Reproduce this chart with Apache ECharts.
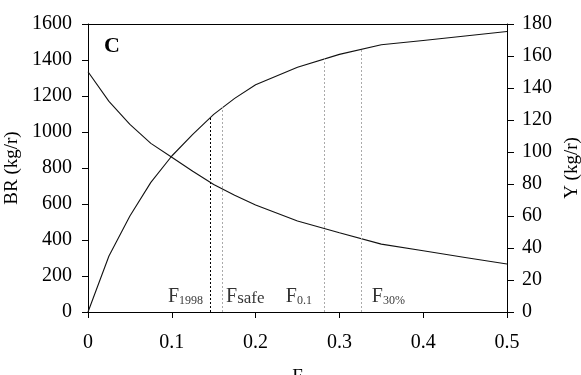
<!DOCTYPE html>
<html>
<head>
<meta charset="utf-8">
<script src="https://cdn.jsdelivr.net/npm/echarts@6/dist/echarts.min.js"></script>
<style>
  html, body { margin: 0; padding: 0; background: #fff; }
  #chart { width: 581px; height: 375px; }
</style>
</head>
<body>
<div id="chart"></div>
<script>
// fishing mortality values
const fValues = [0, 0.025, 0.05, 0.075, 0.1, 0.125, 0.15, 0.175, 0.2, 0.25, 0.3, 0.35, 0.4, 0.45, 0.5]
// biomass per recruit (left axis)
const brValues = [1335, 1170, 1042, 937, 860, 782, 708, 648, 594, 506, 440, 377, 340, 303, 267]
// yield per recruit (right axis)
const yValues = [0, 35, 60, 81, 97.5, 111, 123.5, 133.5, 142, 153, 161, 167, 169.7, 172.5, 175.3]

// tick labels
const fTicks = [0, 0.1, 0.2, 0.3, 0.4, 0.5]
const brTicks = [0, 200, 400, 600, 800, 1000, 1200, 1400, 1600]
const yTicks = [0, 20, 40, 60, 80, 100, 120, 140, 160, 180]

// reference points
const refNames = ["1998", "safe", "0.1", "30%"]
const refF = [0.1456, 0.16, 0.2815, 0.3255]
const refTop = [122.5, 128, 158.5, 164.5]

const font = "Liberation Serif"

const chart = echarts.init(document.getElementById("chart"), null, { renderer: "canvas" })

const refColors = ["#000", "#aaa", "#aaa", "#aaa"]
const labelSide = ["left", "right", "left", "right"]
const labelDist = [7, 4, 12, 11]

chart.setOption({
  animation: false,
  backgroundColor: "#fff",
  textStyle: { fontFamily: font, color: "#000" },
  title: {
    text: "C",
    left: 99,
    top: 30,
    textStyle: { fontFamily: font, fontSize: 22, fontWeight: "bold", color: "#000" },
  },
  grid: { left: 88, right: 74, top: 24, bottom: 63, containLabel: false, outerBoundsMode: "none" },
  xAxis: [
    {
      type: "value",
      min: 0,
      max: 0.5,
      interval: 0.1,
      name: "F",
      nameLocation: "middle",
      nameGap: 56,
      nameTextStyle: { fontFamily: font, fontSize: 19, color: "#000" },
      axisLine: { onZero: false, lineStyle: { color: "#000", width: 1 } },
      axisTick: { length: 6, customValues: fTicks, lineStyle: { color: "#000" } },
      minorTick: { show: false },
      axisLabel: {
        margin: 21,
        customValues: fTicks,
        fontFamily: font,
        fontSize: 20,
        color: "#000",
        formatter: (v) => (v === 0 ? "0" : String(Math.round(v * 10) / 10)),
      },
      splitLine: { show: false },
    },
    {
      type: "value",
      position: "top",
      min: 0,
      max: 0.5,
      axisLine: { onZero: false, lineStyle: { color: "#000", width: 1 } },
      axisTick: { show: false },
      axisLabel: { show: false },
      splitLine: { show: false },
    },
  ],
  yAxis: [
    {
      type: "value",
      position: "left",
      min: 0,
      max: 1600,
      interval: 200,
      name: "BR (kg/r)",
      nameLocation: "middle",
      nameGap: 60,
      nameTextStyle: { fontFamily: font, fontSize: 19, color: "#000" },
      axisLine: { show: true, onZero: false, lineStyle: { color: "#000", width: 1 } },
      axisTick: { show: true, length: 6, customValues: brTicks, lineStyle: { color: "#000" } },
      minorTick: { show: false },
      axisLabel: {
        margin: 16,
        customValues: brTicks,
        fontFamily: font,
        fontSize: 20,
        color: "#000",
        formatter: (v) => String(v),
      },
      splitLine: { show: false },
    },
    {
      type: "value",
      min: 0,
      max: 180,
      interval: 20,
      position: "right",
      name: "Y (kg/r)",
      nameLocation: "middle",
      nameGap: 52,
      nameRotate: 90,
      nameTextStyle: { fontFamily: font, fontSize: 19, color: "#000" },
      axisLine: { show: true, onZero: false, lineStyle: { color: "#000", width: 1 } },
      axisTick: { show: true, length: 7, customValues: yTicks, lineStyle: { color: "#000" } },
      minorTick: { show: false },
      axisLabel: {
        margin: 15,
        customValues: yTicks,
        fontFamily: font,
        fontSize: 20,
        color: "#000",
        formatter: (v) => String(v),
      },
      splitLine: { show: false },
    },
  ],
  series: [
    {
      name: "BR",
      type: "line",
      yAxisIndex: 0,
      symbol: "none",
      lineStyle: { color: "#111", width: 1.1 },
      data: fValues.map((f, i) => [f, brValues[i]]),
    },
    {
      name: "Y",
      type: "line",
      yAxisIndex: 1,
      symbol: "none",
      lineStyle: { color: "#111", width: 1.1 },
      data: fValues.map((f, i) => [f, yValues[i]]),
      markLine: {
        silent: true,
        symbol: "none",
        label: { show: false },
        data: refF.map((f, i) => [
          { coord: [f, 0], lineStyle: { color: refColors[i], type: [2, 2], width: 1 } },
          { coord: [f, refTop[i]] },
        ]),
      },
    },
    {
      name: "labels",
      type: "scatter",
      yAxisIndex: 1,
      symbolSize: 0,
      silent: true,
      data: refF.map((f, i) => ({
        value: [f, 10],
        label: {
          show: true,
          position: labelSide[i],
          distance: labelDist[i],
          formatter: "{a|F}{b|" + refNames[i] + "}",
          rich: {
            a: { fontFamily: font, fontSize: 20, color: "#000", lineHeight: 22, verticalAlign: "bottom" },
            b: {
              fontFamily: font,
              fontSize: refNames[i] === "safe" ? 17 : 12,
              color: "#000",
              lineHeight: 22,
              verticalAlign: "bottom",
            },
          },
        },
      })),
    },
  ],
})
</script>
</body>
</html>
